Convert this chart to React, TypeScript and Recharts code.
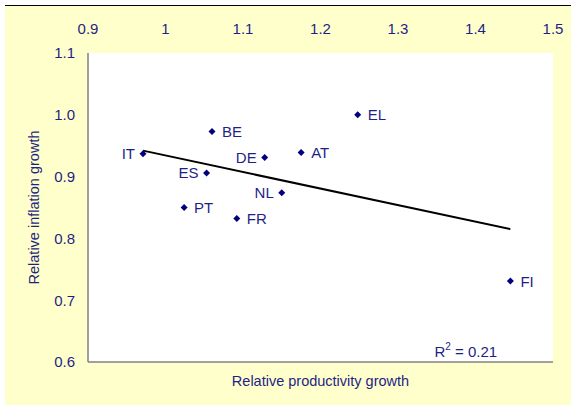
import React from "react"
import { ScatterChart, Scatter, XAxis, YAxis, CartesianGrid, ReferenceLine, ReferenceDot } from "recharts"

const countries = ["IT", "BE", "DE", "ES", "NL", "EL", "AT", "PT", "FR", "FI"]
const productivity = [0.971, 1.06, 1.128, 1.053, 1.15, 1.248, 1.175, 1.024, 1.092, 1.445]
const inflation = [0.937, 0.973, 0.931, 0.906, 0.874, 1.0, 0.939, 0.85, 0.832, 0.731]
const leftLabels = ["IT", "DE", "ES", "NL"]

const trendX = [0.971, 1.445]
const trendY = [0.942, 0.815]

const xTicks = [0.9, 1, 1.1, 1.2, 1.3, 1.4, 1.5]
const yTicks = [0.6, 0.7, 0.8, 0.9, 1.0, 1.1]

const points = countries.map((name, i) => ({ name, x: productivity[i], y: inflation[i] }))
const trend = trendX.map((x, i) => ({ x, y: trendY[i] }))

const TEXT = "#1f1f85"
const MARK = "#000080"
const FONT = "'Liberation Sans', Arial, sans-serif"

const Diamond = (props: any) => {
  const { cx, cy, payload } = props
  const left = leftLabels.includes(payload.name)
  const s = 3.5
  return (
    <g>
      <polygon
        points={`${cx},${cy - s} ${cx + s},${cy} ${cx},${cy + s} ${cx - s},${cy}`}
        fill={MARK}
      />
      <text
        x={left ? cx - 8 : cx + 10}
        y={cy + 5.5}
        textAnchor={left ? "end" : "start"}
        fill={TEXT}
        fontSize={15}
        fontFamily={FONT}
      >
        {payload.name}
      </text>
    </g>
  )
}

const RSquared = (props: any) => {
  const { viewBox } = props
  return (
    <text x={viewBox.x} y={viewBox.y} fill={TEXT} fontSize={15} fontFamily={FONT}>
      R
      <tspan fontSize={10} dy={-7}>2</tspan>
      <tspan dy={7}> = 0.21</tspan>
    </text>
  )
}

export default function App() {
  return (
    <div
      style={{
        position: "absolute",
        left: 5,
        top: 5,
        width: 566,
        height: 399,
        background: "#ffffcc",
        borderTop: "1px solid #000",
      }}
    >
      <ScatterChart width={566} height={399} margin={{ top: 7, right: 18, bottom: 43, left: 23 }}>
        <CartesianGrid fill="#ffffff" horizontal={false} vertical={false} />
        <XAxis
          type="number"
          dataKey="x"
          orientation="top"
          domain={[0.9, 1.5]}
          ticks={xTicks}
          height={40}
          axisLine={false}
          tickLine={false}
          tickSize={0}
          tickMargin={19}
          tickFormatter={(v: number) => String(v)}
          tick={{ fill: TEXT, fontSize: 15, fontFamily: FONT }}
        />
        <YAxis
          type="number"
          dataKey="y"
          domain={[0.6, 1.1]}
          ticks={yTicks}
          width={60}
          axisLine={{ stroke: "#808080", strokeWidth: 1.5 }}
          tickLine={false}
          tickSize={0}
          tickMargin={13}
          tickFormatter={(v: number) => v.toFixed(1)}
          tick={{ fill: TEXT, fontSize: 15, fontFamily: FONT }}
          label={{
            value: "Relative inflation growth",
            angle: -90,
            position: "insideLeft",
            offset: 6,
            style: { textAnchor: "middle", fill: TEXT, fontSize: 14.5, fontFamily: FONT },
          }}
        />
        <ReferenceLine
          y={0.6}
          stroke="#808080"
          strokeWidth={1.5}
          label={{
            value: "Relative productivity growth",
            position: "bottom",
            offset: 14,
            fill: TEXT,
            fontSize: 14.5,
            fontFamily: FONT,
          }}
        />
        <Scatter
          data={trend}
          line={{ stroke: "#000", strokeWidth: 2 }}
          shape={() => <g />}
          isAnimationActive={false}
        />
        <Scatter data={points} shape={Diamond} isAnimationActive={false} />
        <ReferenceDot x={1.347} y={0.608} r={0} fill="none" stroke="none" label={<RSquared />} />
      </ScatterChart>
    </div>
  )
}
